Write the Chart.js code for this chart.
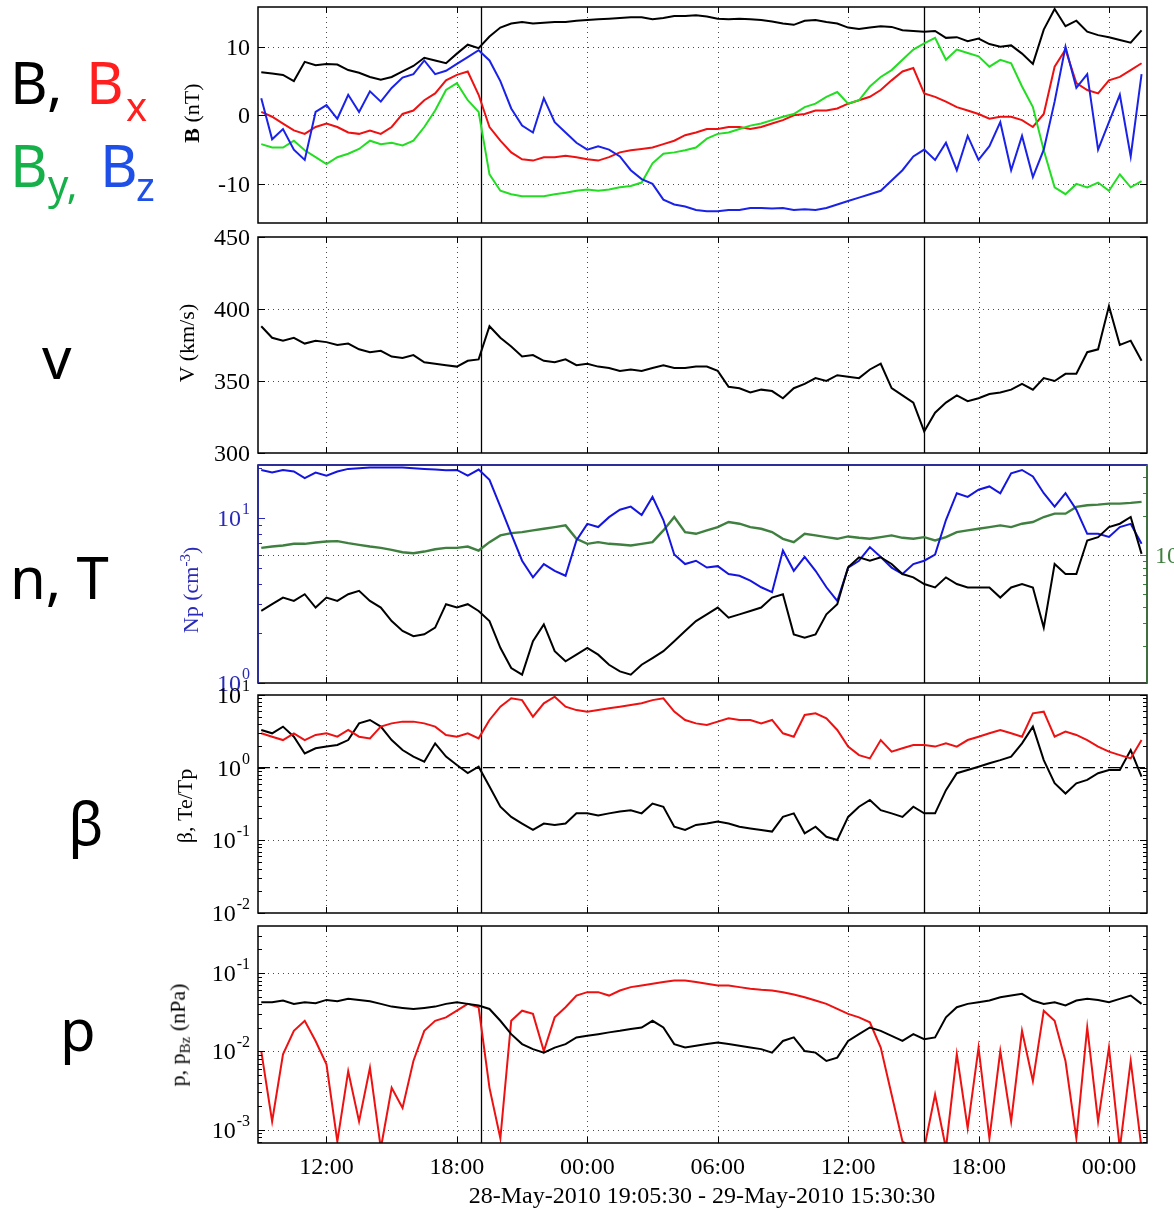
<!DOCTYPE html>
<html><head><meta charset="utf-8">
<script src="https://cdn.jsdelivr.net/npm/chart.js@4.4.1/dist/chart.umd.min.js"></script>
<style>
html,body{margin:0;padding:0;background:#fff;}
#wrap{position:relative;width:1174px;height:1209px;overflow:hidden;background:#fff;}
canvas{position:absolute;left:0;top:0;}
.big{position:absolute;white-space:nowrap;line-height:1;font-family:"Noto Sans",sans-serif;font-size:58px;}
.sm{font-size:40px;}
.yt{position:absolute;font-family:"Liberation Serif",serif;font-size:22px;white-space:nowrap;line-height:1;transform:translate(-50%,-50%) rotate(-90deg);}
.yt sup,.yt sub{font-size:15px;}
.xt{position:absolute;font-family:"Liberation Serif",serif;font-size:24px;white-space:nowrap;line-height:1;transform:translate(-50%,-50%);}
</style></head><body><div id="wrap">
<canvas id="c0" width="1174" height="1209"></canvas>
<canvas id="c1" width="1174" height="1209"></canvas>
<canvas id="c2" width="1174" height="1209"></canvas>
<canvas id="c3" width="1174" height="1209"></canvas>
<canvas id="c4" width="1174" height="1209"></canvas>

<div class="big" style="left:10px;top:53px;color:#000">B,</div>
<div class="big" style="left:86px;top:53px;color:#ff1f1f">B</div>
<div class="big sm" style="left:126px;top:86px;color:#ff1f1f">x</div>
<div class="big" style="left:10px;top:136px;color:#16b04a">B</div>
<div class="big sm" style="left:48px;top:164px;color:#16b04a">y,</div>
<div class="big" style="left:100px;top:136px;color:#1e4fe6">B</div>
<div class="big sm" style="left:136px;top:166px;color:#1e4fe6">z</div>
<div class="big" style="left:42px;top:328px;color:#000">v</div>
<div class="big" style="left:10px;top:548px;color:#000">n, T</div>
<div class="big" style="left:68px;top:794px;color:#000">β</div>
<div class="big" style="left:60px;top:1000px;color:#000">p</div>

<div class="yt" style="left:192px;top:113px"><b>B</b> (nT)</div>
<div class="yt" style="left:187px;top:343px">V (km/s)</div>
<div class="yt" style="left:190px;top:590px;color:#2a2ab8">Np (cm<sup>-3</sup>)</div>
<div class="yt" style="left:185px;top:806px">β, Te/Tp</div>
<div class="yt" style="left:180px;top:1035px">p, p<sub>Bz</sub> (nPa)</div>
<div class="xt" id="xtitle" style="left:702px;top:1195px"></div>
</div>
<script>
// ---------------- DATA ----------------
const hours = [9,9.5,10,10.5,11,11.5,12,12.5,13,13.5,
 14,14.5,15,15.5,16,16.5,17,17.5,18,18.5,
 19,19.5,20,20.5,21,21.5,22,22.5,23,23.5,
 24,24.5,25,25.5,26,26.5,27,27.5,28,28.5,
 29,29.5,30,30.5,31,31.5,32,32.5,33,33.5,
 34,34.5,35,35.5,36,36.5,37,37.5,38,38.5,
 39,39.5,40,40.5,41,41.5,42,42.5,43,43.5,
 44,44.5,45,45.5,46,46.5,47,47.5,48,48.5,
 49,49.5]; // hours since 28-May-2010 00:00

const B = [6.3,6.1,5.9,5.0,7.8,7.3,7.5,7.4,6.6,6.2,
 5.6,5.2,5.6,6.4,7.2,8.4,8.0,7.6,9.0,10.3,
 9.8,11.5,12.8,13.4,13.6,13.4,13.5,13.6,13.6,13.8,
 13.9,14.0,14.1,14.2,14.3,14.3,14.0,14.2,14.5,14.5,
 14.6,14.4,14.1,14.0,14.1,14.0,13.9,13.7,13.4,13.2,
 13.8,13.9,13.6,13.4,12.8,12.6,12.8,13.0,12.9,12.4,
 12.3,12.2,12.3,11.3,11.4,10.8,11.2,10.4,10.0,10.2,
 9.0,7.5,12.5,15.5,13.0,13.8,12.2,11.7,11.4,11.0,
 10.6,12.4];
const Bx = [0.5,-0.2,-1.2,-2.2,-2.7,-1.7,-1.2,-1.7,-2.5,-2.7,
 -2.2,-2.7,-1.7,0.2,0.7,2.2,3.2,5.1,5.9,6.4,
 3.0,-1.7,-3.7,-5.4,-6.4,-6.6,-6.1,-6.1,-5.9,-6.1,
 -6.4,-6.6,-6.1,-5.4,-5.1,-4.9,-4.7,-4.2,-3.7,-2.9,
 -2.5,-2.0,-2.0,-1.7,-1.7,-2.0,-1.7,-1.2,-0.7,0.0,
 0.2,0.7,0.7,1.0,1.7,2.2,2.7,3.7,5.1,6.4,
 6.9,3.2,2.7,2.0,1.2,0.7,0.2,-0.5,-0.2,-0.2,
 -0.7,-1.7,0.2,7.1,9.6,4.7,3.7,3.2,5.1,5.6,
 6.6,7.6];
const By = [-4.2,-4.7,-4.7,-3.7,-5.1,-6.1,-7.1,-6.1,-5.6,-4.9,
 -3.7,-4.2,-4.0,-4.4,-3.7,-1.7,0.7,3.7,4.7,2.2,
 0.5,-8.6,-11.0,-11.5,-11.8,-11.8,-11.8,-11.5,-11.3,-11.0,
 -10.8,-11.0,-10.8,-10.5,-10.3,-9.8,-7.0,-5.6,-5.4,-5.1,
 -4.7,-3.4,-2.7,-2.5,-2.0,-1.5,-1.2,-0.7,-0.2,0.2,
 1.2,1.7,2.7,3.4,1.7,2.2,4.2,5.6,6.6,8.1,
 9.6,10.5,11.3,8.1,9.6,9.1,8.6,7.1,8.1,7.6,
 4.2,1.2,-5.1,-10.5,-11.5,-10.0,-10.5,-9.8,-11.0,-8.6,
 -10.5,-9.6];
const Bz = [2.5,-3.5,-2.0,-5.0,-6.5,0.5,1.5,-0.5,3.0,0.5,
 3.5,2.0,4.0,5.5,6.0,8.0,6.0,6.5,7.5,8.5,
 9.5,8.0,5.0,1.0,-1.5,-2.5,2.5,-1.0,-2.5,-4.0,
 -5.0,-4.5,-5.0,-6.0,-8.0,-9.3,-10.0,-12.3,-13.0,-13.3,
 -13.8,-14.0,-14.0,-13.8,-13.8,-13.5,-13.5,-13.6,-13.5,-13.8,
 -13.7,-13.8,-13.5,-13.0,-12.5,-12.0,-11.5,-11.0,-9.5,-8.0,
 -6.0,-5.0,-6.5,-4.0,-8.0,-3.0,-6.5,-4.5,-1.0,-8.0,
 -3.0,-9.0,-5.0,2.0,10.0,4.0,6.0,-5.0,-1.0,3.0,
 -6.0,6.0];
const V = [388,380,378,380,376,378,377,375,376,372,
 370,371,367,366,368,363,362,361,360,364,
 365,388,380,374,367,368,364,363,365,361,
 362,360,359,357,358,357,359,361,359,359,
 360,360,357,346,345,342,344,343,338,345,
 348,352,350,354,353,352,358,362,345,340,
 335,315,328,335,340,336,338,341,342,344,
 348,344,352,350,355,355,370,372,402,375,
 378,364];
const Np = [19.5,18.8,19.5,19.1,17.4,18.8,18.0,19.1,19.8,20.0,
 20.2,20.2,20.2,20.2,20.0,19.8,19.6,19.4,19.5,18.0,
 19.6,17.0,11.7,8.0,5.5,4.36,5.25,4.78,4.46,7.3,
 9.2,8.8,10.1,11.2,11.7,10.4,13.4,9.7,6.0,5.25,
 5.5,5.0,5.1,4.57,4.46,4.17,3.8,3.55,6.35,4.78,
 5.8,4.78,3.8,3.14,5.0,5.5,6.65,5.8,5.0,4.57,
 5.25,5.5,6.0,9.7,14.1,13.4,14.8,15.5,14.1,18.6,
 19.5,17.8,14.1,11.7,14.1,11.2,8.0,8.0,7.66,8.8,
 9.2,6.97];
const Te = [113400,116100,118200,121800,121800,124700,126900,127700,123200,119600,
 116100,113400,109400,104900,103100,106200,110700,113400,113400,116100,
 108100,125400,141300,147300,149900,154400,159100,163800,168800,133100,
 121800,125400,121800,120300,118200,121800,125400,154400,195800,149900,
 145500,154400,163800,179200,173900,163800,159100,149900,133100,125400,
 145500,141300,137100,133100,138800,135500,133100,137100,141300,135500,
 133100,137100,129200,137100,149900,154400,159100,163800,168800,163800,
 173900,179200,195800,207800,207800,234100,241100,244000,248400,248400,
 251400,255900];
const Tp = [37100,41800,47000,44300,49900,39400,47000,44300,49900,53000,
 44300,39400,31000,26000,23700,24500,27600,41800,39400,41800,
 37100,31000,19300,13500,12000,21700,29200,18200,15200,17100,
 19300,17100,14300,12700,12000,14300,16100,18200,21700,26000,
 31000,34900,39400,32900,34900,37100,39400,47000,49900,24500,
 23100,24500,34900,41800,80300,96000,90400,96000,85200,71300,
 67200,59700,56200,67200,59700,56200,56200,56200,47000,56200,
 59700,56200,27600,85200,71300,71300,129200,137100,163800,173900,
 195800,101900];
const beta = [3.3,2.97,3.67,2.67,1.57,1.85,1.95,2.05,2.4,4.07,
 4.53,3.67,2.4,1.75,1.42,1.21,2.16,1.42,1.09,0.84,
 1.03,0.55,0.29,0.21,0.17,0.139,0.17,0.163,0.17,0.235,
 0.235,0.22,0.235,0.25,0.26,0.235,0.32,0.29,0.154,0.139,
 0.163,0.17,0.181,0.17,0.154,0.146,0.139,0.132,0.21,0.235,
 0.125,0.154,0.112,0.101,0.21,0.29,0.36,0.26,0.235,0.21,
 0.29,0.235,0.235,0.49,0.84,0.93,1.03,1.15,1.27,1.42,
 2.16,3.67,1.27,0.61,0.44,0.61,0.68,0.84,0.93,0.93,
 1.75,0.75];
const TeTp = [2.97,2.67,2.4,2.97,2.4,2.82,2.97,2.67,3.3,2.67,
 2.53,3.67,4.07,4.3,4.3,4.07,3.67,2.82,2.67,2.97,
 2.53,4.53,6.9,9.0,8.5,5.03,7.68,9.49,6.9,6.2,
 5.9,6.2,6.55,6.9,7.28,7.68,8.5,9.0,5.9,4.53,
 4.07,3.86,4.3,4.77,4.53,4.53,4.07,4.53,2.97,2.67,
 5.31,5.6,4.77,3.3,1.95,1.49,1.34,2.4,1.66,1.85,
 2.05,2.05,1.95,2.16,1.95,2.4,2.67,2.97,3.3,2.97,
 2.67,5.6,5.9,2.67,3.13,2.82,2.4,1.95,1.66,1.49,
 1.34,2.4];
const P = [0.0424,0.0424,0.0446,0.0404,0.0424,0.0412,0.0454,0.0436,0.0468,0.0454,
 0.0436,0.0404,0.0373,0.0359,0.0348,0.0359,0.0373,0.0404,0.0424,0.0404,
 0.0385,0.0348,0.0246,0.0166,0.0124,0.0107,0.00966,0.0112,0.0124,0.0151,
 0.0158,0.0166,0.0175,0.0183,0.0193,0.0202,0.0246,0.0202,0.0124,0.0112,
 0.0118,0.0124,0.0130,0.0124,0.0118,0.0112,0.0107,0.00966,0.0136,0.0151,
 0.0101,0.00966,0.00755,0.00833,0.0136,0.0166,0.0202,0.0183,0.0158,0.0136,
 0.0166,0.0143,0.0151,0.0272,0.0366,0.0404,0.0424,0.0446,0.0492,0.0516,
 0.0542,0.0446,0.0404,0.0424,0.0385,0.0446,0.0468,0.0454,0.0424,0.0468,
 0.0516,0.0404];
const PBz = [0.0101,0.00128,0.0092,0.0183,0.0246,0.0136,0.00685,0.00071,0.0056,0.00128,
 0.0062,0.00058,0.00343,0.0019,0.00755,0.0183,0.0246,0.0272,0.0331,0.0404,
 0.0366,0.00343,0.00078,0.0246,0.0331,0.0301,0.0101,0.0272,0.0366,0.0516,
 0.0570,0.0570,0.0516,0.0599,0.0661,0.0695,0.0729,0.0766,0.0805,0.0805,
 0.0766,0.0729,0.0695,0.0695,0.0661,0.0630,0.0611,0.0599,0.0570,0.0532,
 0.0492,0.0446,0.0404,0.0348,0.0301,0.0272,0.0235,0.0112,0.00282,0.00071,
 0.00058,0.00058,0.00282,0.00058,0.0092,0.00105,0.0112,0.00078,0.0101,0.00128,
 0.0183,0.0042,0.0331,0.0246,0.00755,0.00078,0.0202,0.00128,0.0112,0.00058,
 0.00755,0.00058];

const timeTicks = [12,18,24,30,36,42,48];
const timeTickLabels = ['12:00','18:00','00:00','06:00','12:00','18:00','00:00'];
const icmeBounds = [19.0917, 39.5083]; // 28-May 19:05:30, 29-May 15:30:30
const bTicks = [-10,0,10];
const vTicks = [300,350,400,450];
const npTicks = [1,10];
const tTicks = [1e5];
const betaTicks = [0.01,0.1,1,10];
const pTicks = [0.001,0.01,0.1];
const xTitle = '28-May-2010 19:05:30 - 29-May-2010 15:30:30';

// ---------------- LAYOUT ----------------
const W = 1174, H = 1209, X0 = 258, X1 = 1147;
const XMIN = 8.85, XMAX = 49.75;
const tops = [7,237,465,695,926], bots = [223,453,683,913,1143];
document.getElementById('xtitle').textContent = xTitle;

const SERIF = '"Liberation Serif", serif';
function drawPow(ctx, e, x, y, align, color) {
  const base = '10', ex = String(e);
  ctx.font = '24px ' + SERIF; const wb = ctx.measureText(base).width;
  ctx.font = '16px ' + SERIF; const we = ctx.measureText(ex).width;
  const x0 = align === 'right' ? x - wb - we - 1 : x;
  ctx.fillStyle = color; ctx.textAlign = 'left'; ctx.textBaseline = 'alphabetic';
  ctx.font = '24px ' + SERIF; ctx.fillText(base, x0, y + 8);
  ctx.font = '16px ' + SERIF; ctx.fillText(ex, x0 + wb + 1, y - 4);
}

const deco = {};
const framePlugin = {
  id: 'frame',
  beforeDatasetsDraw(chart) {
    const o = deco[chart.canvas.id]; const {ctx, chartArea: a, scales} = chart;
    ctx.save();
    ctx.beginPath(); ctx.rect(a.left, a.top, a.right - a.left, a.bottom - a.top); ctx.clip();
    ctx.strokeStyle = 'rgba(30,30,30,0.8)'; ctx.lineWidth = 1; ctx.setLineDash([1, 4]);
    ctx.beginPath();
    timeTicks.forEach(h => { const x = Math.round(scales.x.getPixelForValue(h)) + 0.5; ctx.moveTo(x, a.top); ctx.lineTo(x, a.bottom); });
    o.axes.forEach(ax => (ax.grid || []).forEach(v => { const y = Math.round(scales[ax.id].getPixelForValue(v)) + 0.5; ctx.moveTo(a.left, y); ctx.lineTo(a.right, y); }));
    ctx.stroke();
    ctx.setLineDash([]);
    ctx.strokeStyle = '#000'; ctx.lineWidth = 1.3; ctx.beginPath();
    icmeBounds.forEach(h => { const x = Math.round(scales.x.getPixelForValue(h)) + 0.5; ctx.moveTo(x, a.top); ctx.lineTo(x, a.bottom); });
    ctx.stroke();
    ctx.restore();
  },
  afterDatasetsDraw(chart) {
    const o = deco[chart.canvas.id]; const {ctx, chartArea: a, scales} = chart;
    ctx.save();
    ctx.lineWidth = 1; ctx.strokeStyle = '#000'; ctx.beginPath();
    timeTicks.forEach(h => { const x = Math.round(scales.x.getPixelForValue(h)) + 0.5; ctx.moveTo(x, a.top); ctx.lineTo(x, a.top + 6); ctx.moveTo(x, a.bottom); ctx.lineTo(x, a.bottom - 6); });
    ctx.stroke();
    o.axes.forEach(ax => {
      const s = scales[ax.id];
      const sides = ax.mirror ? ['left', 'right'] : [ax.side];
      const marks = ax.ticks.map(v => [v, 7]);
      if (ax.log) {
        const lo = Math.floor(Math.log10(s.min)), hi = Math.ceil(Math.log10(s.max));
        for (let e = lo; e <= hi; e++) for (let k = 2; k <= 9; k++) { const v = k * Math.pow(10, e); if (v > s.min && v < s.max) marks.push([v, 4]); }
      }
      ctx.strokeStyle = ax.color; ctx.lineWidth = 1; ctx.beginPath();
      marks.forEach(([v, len]) => {
        const y = Math.round(s.getPixelForValue(v)) + 0.5;
        if (y < a.top - 1 || y > a.bottom + 1) return;
        sides.forEach(sd => { if (sd === 'left') { ctx.moveTo(a.left, y); ctx.lineTo(a.left + len, y); } else { ctx.moveTo(a.right, y); ctx.lineTo(a.right - len, y); } });
      });
      ctx.stroke();
      ax.ticks.forEach((v, i) => {
        const y = s.getPixelForValue(v);
        const right = ax.side === 'left';
        const x = right ? a.left - 8 : a.right + 8;
        if (ax.log) {
          drawPow(ctx, Math.round(Math.log10(v)), x, y, right ? 'right' : 'left', ax.color);
        } else {
          ctx.font = '24px ' + SERIF; ctx.fillStyle = ax.color; ctx.textBaseline = 'alphabetic';
          ctx.textAlign = right ? 'right' : 'left';
          ctx.fillText(String(v), x, y + 8);
        }
      });
    });
    ctx.strokeStyle = '#000'; ctx.lineWidth = 1.5;
    ctx.strokeRect(a.left, a.top, a.right - a.left, a.bottom - a.top);
    if (o.leftColor) { ctx.strokeStyle = o.leftColor; ctx.beginPath(); ctx.moveTo(a.left, a.top); ctx.lineTo(a.left, a.bottom); ctx.moveTo(a.left, a.top); ctx.lineTo(a.right, a.top); ctx.stroke(); }
    if (o.rightColor) { ctx.strokeStyle = o.rightColor; ctx.beginPath(); ctx.moveTo(a.right, a.top); ctx.lineTo(a.right, a.bottom); ctx.stroke(); }
    if (o.xLabels) {
      ctx.font = '24px ' + SERIF; ctx.fillStyle = '#000'; ctx.textAlign = 'center'; ctx.textBaseline = 'alphabetic';
      timeTicks.forEach((h, i) => ctx.fillText(timeTickLabels[i], scales.x.getPixelForValue(h), a.bottom + 31));
    }
    ctx.restore();
  }
};

const series = (arr) => hours.map((h, i) => ({x: h, y: arr[i]}));
const line = (arr, color, axis, w) => ({data: series(arr), borderColor: color, borderWidth: w || 2, pointRadius: 0, tension: 0, fill: false, yAxisID: axis || 'y'});

function makePanel(i, datasets, yScales, d) {
  const id = 'c' + i; deco[id] = d;
  const scales = { x: {type: 'linear', min: XMIN, max: XMAX, display: false} };
  for (const k in yScales) scales[k] = Object.assign({display: false}, yScales[k]);
  return new Chart(document.getElementById(id), {
    type: 'line',
    data: {datasets},
    options: {
      responsive: false, animation: false, devicePixelRatio: 1,
      layout: {padding: {left: X0, right: W - X1, top: tops[i], bottom: H - bots[i]}},
      plugins: {legend: {display: false}, tooltip: {enabled: false}},
      scales
    },
    plugins: [framePlugin]
  });
}

const RED = '#ee1111', GREEN = '#22dd22', BLUE = '#1a22e8';

makePanel(0,
  [line(Bz, BLUE), line(By, GREEN), line(Bx, RED), line(B, '#000')],
  {y: {type: 'linear', min: -15.7, max: 15.8}},
  {axes: [{id: 'y', side: 'left', mirror: true, color: '#000', ticks: bTicks, grid: bTicks}]});

makePanel(1,
  [line(V, '#000')],
  {y: {type: 'linear', min: 300, max: 450}},
  {axes: [{id: 'y', side: 'left', mirror: true, color: '#000', ticks: vTicks, grid: [350, 400]}]});

makePanel(2,
  [line(Tp, '#000', 'y2'), line(Np, '#1515e0'), line(Te, '#3f7f3f', 'y2', 2.4)],
  {y: {type: 'logarithmic', min: 1, max: 20.9, position: 'left'},
   y2: {type: 'logarithmic', min: 10350, max: 492000, position: 'right'}},
  {leftColor: '#2a2ab8', rightColor: '#3f7f3f',
   axes: [{id: 'y', side: 'left', mirror: false, log: true, color: '#2a2ab8', ticks: npTicks, grid: []},
          {id: 'y2', side: 'right', mirror: false, log: true, color: '#3f7f3f', ticks: tTicks, grid: tTicks}]});

const unity = [{x: XMIN, y: 1}, {x: XMAX, y: 1}];
makePanel(3,
  [line(TeTp, RED), line(beta, '#000'),
   {data: unity, borderColor: '#000', borderWidth: 1.2, borderDash: [12, 5, 3, 5], pointRadius: 0, yAxisID: 'y'}],
  {y: {type: 'logarithmic', min: 0.01, max: 10}},
  {axes: [{id: 'y', side: 'left', mirror: true, log: true, color: '#000', ticks: betaTicks, grid: [0.1]}]});

makePanel(4,
  [line(P, '#000'), line(PBz, RED)],
  {y: {type: 'logarithmic', min: 6.79e-4, max: 0.398}},
  {xLabels: true, axes: [{id: 'y', side: 'left', mirror: true, log: true, color: '#000', ticks: pTicks, grid: pTicks}]});
</script>
</body></html>
